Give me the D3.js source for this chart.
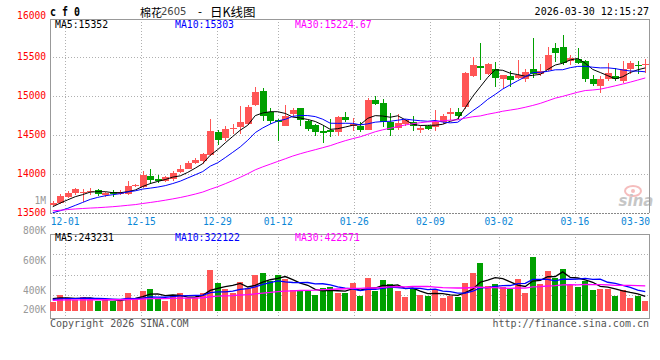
<!DOCTYPE html>
<html><head><meta charset="utf-8">
<script src="https://cdn.jsdelivr.net/npm/d3@7"></script>
<style>body{margin:0;background:#fff}svg{display:block}</style>
</head><body><svg id="c" width="660" height="360"></svg>
<script>
// ---------- data ----------
const dates = ["11-27","11-28","12-01","12-02","12-03","12-04","12-05","12-08","12-09","12-10",
"12-11","12-12","12-15","12-16","12-17","12-18","12-19","12-22","12-23","12-24",
"12-25","12-26","12-29","12-30","12-31","01-05","01-06","01-07","01-08","01-09",
"01-12","01-13","01-14","01-15","01-16","01-19","01-20","01-21","01-22","01-23",
"01-26","01-27","01-28","01-29","01-30","02-02","02-03","02-04","02-05","02-06",
"02-09","02-10","02-11","02-12","02-13","02-24","02-25","02-26","02-27","03-02",
"03-03","03-04","03-05","03-06","03-09","03-10","03-11","03-12","03-13","03-16",
"03-17","03-18","03-19","03-20","03-23","03-24","03-25","03-26","03-27","03-30"];
const open = [13600,13629,13706,13749,13757,13762,13790,13727,13760,13740,
13740,13843,13826,13972,13933,13912,13937,14023,14066,14143,
14169,14234,14538,14457,14580,14594,14637,14886,15066,14796,
14684,14616,14761,14847,14671,14624,14543,14564,14530,14727,
14616,14616,14556,14950,14907,14658,14586,14641,14667,14556,
14616,14598,14658,14761,14796,14856,15251,15380,15272,15337,
15208,15251,15230,15208,15337,15281,15328,15607,15620,15440,
15474,15444,15217,15122,15208,15251,15186,15345,15397,15397];
const high = [13650,13740,13783,13813,13800,13813,13800,13770,13790,13790,
13912,13870,14040,14058,13985,13976,14032,14113,14165,14200,
14264,14702,14560,14607,14637,14873,14882,15109,15100,14839,
14701,14882,14839,14847,14693,14637,14607,14701,14744,14796,
14714,14658,14972,15002,14963,14779,14770,14701,14744,14607,
14628,14813,14770,14847,14847,15302,15500,15671,15422,15431,
15268,15320,15457,15337,15740,15410,15628,15671,15774,15517,
15611,15457,15268,15251,15422,15357,15444,15444,15440,15474];
const low = [13590,13610,13685,13732,13640,13727,13720,13705,13705,13727,
13727,13835,13813,13870,13878,13895,13912,14015,14058,14126,
14126,14230,14370,14414,14508,14513,14628,14873,14671,14637,
14414,14607,14727,14607,14543,14487,14388,14470,14478,14658,
14543,14534,14556,14886,14594,14487,14564,14607,14543,14521,
14564,14543,14641,14693,14684,14830,15238,15200,15260,15113,
15096,15113,15208,15173,15225,15251,15320,15431,15388,15388,
15405,15173,15122,15036,15186,15186,15165,15281,15272,15294];
const close = [13620,13714,13757,13800,13770,13780,13740,13757,13735,13770,
13843,13850,13985,13920,13907,13963,14006,14066,14143,14178,
14255,14543,14427,14573,14590,14659,14856,15045,14744,14671,
14658,14744,14813,14684,14577,14530,14517,14534,14727,14684,
14641,14556,14942,14899,14658,14564,14650,14684,14607,14586,
14573,14658,14744,14796,14736,15294,15388,15354,15405,15221,
15260,15199,15268,15302,15277,15320,15517,15551,15414,15487,
15422,15208,15152,15217,15285,15217,15345,15422,15392,15405];
const volume = [155000,267000,222000,183000,238000,183000,172000,183000,167000,172000,
305000,222000,333000,367000,195000,172000,267000,305000,212000,212000,
305000,683000,472000,362000,305000,483000,378000,600000,638000,505000,
600000,528000,350000,333000,333000,267000,388000,395000,305000,305000,
472000,255000,550000,333000,517000,450000,333000,238000,367000,267000,
250000,350000,222000,250000,238000,472000,638000,800000,422000,450000,
395000,362000,533000,305000,900000,450000,667000,545000,700000,433000,
405000,505000,350000,367000,367000,250000,350000,210000,250000,160000];
// sessions before the visible window (needed for the moving averages)
const priorClose = [13480,13510,13560,13590,13620,13600,13570,13540,13520,13550,
13580,13560,13530,13500,13490,13510,13530,13520,13480,13480,
13460,13450,13420,13390,13395,13480,13550,13600,13635];
const priorVolume = [150000,160000,175000,180000,165000,170000,185000,160000,175000,170000,
180000,165000,155000,170000,185000,175000,160000,170000,180000,170000,
190000,175000,185000,180000,195000,200000,230000,215000,225000];
const priceTicks = [13500,14000,14500,15000,15500,16000];
const volTicks = [200000,400000,600000,800000,1000000];
const volTickLabels = ["200K","400K","600K","800K","1M"];
const xLabelDates = ["12-01","12-15","12-29","01-12","01-26","02-09","03-02","03-16","03-30"];
const maPeriods = [5,10,30];
const priceMALast = ["15352","15303","15224.67"];
const volMALast = ["243231","322122","422571"];
const titleCode = "c f 0";
const titleName = "棉花";
const titleContract = "2605";
const titleKind = "日K线图";
const timestamp = "2026-03-30 12:15:27";
const copyright = "Copyright 2026 SINA.COM";
const siteUrl = "http://finance.sina.com.cn";

// ---------- layout ----------
const L = 50, R = 650, PT = 19, PB = 212.7, VT = 234, VB = 318, VBASE = 311;
const MONO = "'DejaVu Sans Mono', 'Liberation Mono', monospace";
const RED = "#ff5555", GREEN = "#00a000";
const maColors = ["#000000", "#0000ff", "#ff00ff"];
const svg = d3.select("#c");

const x = d3.scaleBand().domain(d3.range(dates.length)).range([49, 649]);
const cx = i => x(i) + x.bandwidth() / 2;
const gx = d3.scaleLinear().domain([0, dates.length - 1]).range([50, 651]);
const y = d3.scaleLinear().domain([13500, 16000]).range([PB, 17.7]);
const yv = d3.scaleLinear().domain([0, 1000000]).range([VBASE, 251]);
const volLabelY = d3.scaleLinear().domain([400000, 1000000]).range([290, 200.7]);

function movingAvg(prior, vals, n) {
  const all = prior.concat(vals), off = prior.length;
  return vals.map((_, i) => d3.mean(all.slice(off + i - n + 1, off + i + 1)));
}

// ---------- grid ----------
const grid = svg.append("g").attr("stroke", "#b0b0b0").attr("stroke-dasharray", "1,2").attr("fill", "none");
priceTicks.filter(v => v > 13500 && v < 16000).forEach(v => {
  const yy = Math.round(y(v)) + 0.5;
  grid.append("line").attr("x1", L).attr("x2", R).attr("y1", yy).attr("y2", yy);
});
xLabelDates.slice(0, -1).forEach(d => {
  const xx = Math.round(gx(dates.indexOf(d))) + 0.5;
  grid.append("line").attr("x1", xx).attr("x2", xx).attr("y1", PT).attr("y2", PB);
  grid.append("line").attr("x1", xx).attr("x2", xx).attr("y1", VT).attr("y2", VB + 2);
});
d3.range(1, 4).forEach(k => {
  const yy = Math.round(VT + k * (VB - VT - 2.4) / 4) + 0.5;
  grid.append("line").attr("x1", L).attr("x2", R).attr("y1", yy).attr("y2", yy);
});

// ---------- borders ----------
const bord = svg.append("g").attr("stroke", "#999").attr("fill", "none").attr("shape-rendering", "crispEdges");
bord.append("path").attr("d", `M${L + 0.5},${PB}V${PT + 0.5}H${R - 0.5}V${PB}`);
bord.append("line").attr("x1", L).attr("x2", R).attr("y1", Math.round(PB) + 0.5).attr("y2", Math.round(PB) + 0.5)
  .attr("stroke", "#888").attr("stroke-dasharray", "2,1");
bord.append("rect").attr("x", L + 0.5).attr("y", VT + 0.5).attr("width", R - L - 1).attr("height", VB - VT);

// ---------- candles ----------
const cg = svg.append("g").attr("shape-rendering", "crispEdges");
dates.forEach((d, i) => {
  const col = close[i] >= open[i] ? RED : GREEN;
  const px = Math.round(cx(i));
  cg.append("rect").attr("x", px).attr("width", 1)
    .attr("y", y(high[i])).attr("height", Math.max(1, y(low[i]) - y(high[i]))).attr("fill", col);
  const top = y(Math.max(open[i], close[i])), bot = y(Math.min(open[i], close[i]));
  cg.append("rect").attr("x", px - 3).attr("width", 7)
    .attr("y", top).attr("height", Math.max(1, bot - top)).attr("fill", col);
});

// ---------- volume bars ----------
const vg = svg.append("g").attr("shape-rendering", "crispEdges");
volume.forEach((v, i) => {
  const col = close[i] >= open[i] ? RED : GREEN;
  const px = Math.round(cx(i));
  vg.append("rect").attr("x", px - 3).attr("width", 6)
    .attr("y", yv(v)).attr("height", VBASE - yv(v)).attr("fill", col);
});

// ---------- moving averages ----------
maPeriods.forEach((n, k) => {
  const pm = movingAvg(priorClose, close, n);
  svg.append("path").datum(pm)
    .attr("d", d3.line().x((d, i) => cx(i)).y(d => y(d)))
    .attr("fill", "none").attr("stroke", maColors[k]).attr("stroke-width", 1);
  const vm = movingAvg(priorVolume, volume, n);
  svg.append("path").datum(vm)
    .attr("d", d3.line().x((d, i) => cx(i)).y(d => yv(d)))
    .attr("fill", "none").attr("stroke", maColors[k]).attr("stroke-width", 1.3);
});

// ---------- texts ----------
function txt(s, xx, yy, opt = {}) {
  const t = svg.append("text").attr("x", xx).attr("y", yy).text(s)
    .attr("font-family", opt.font || MONO).attr("font-size", opt.size || 10)
    .attr("fill", opt.fill || "#000").attr("text-anchor", opt.anchor || "start")
    .attr("dominant-baseline", "central");
  if (opt.weight) t.attr("font-weight", opt.weight);
  if (opt.style) t.attr("font-style", opt.style);
  return t;
}
priceTicks.forEach(v => txt(String(v), 46, v === 16000 ? 15.7 : y(v), {fill: "#ff0000", anchor: "end", size: 9.6}));
volTicks.forEach((v, k) => txt(volTickLabels[k], 46, Math.min(volLabelY(v), 309.3), {fill: "#999", anchor: "end", size: 9.6}));
xLabelDates.forEach((d, k) => {
  const last = k === xLabelDates.length - 1;
  txt(d, last ? R : gx(dates.indexOf(d)), 221.7, {fill: "#0a86d6", anchor: last ? "end" : "middle", size: 9.6});
});
const maNames = maPeriods.map(n => "MA" + n + ":");
const maX = [55, 175, 295];
maNames.forEach((nm, k) => {
  txt(nm + priceMALast[k], maX[k], 24, {fill: maColors[k], size: 9.8});
  txt(nm + volMALast[k], maX[k], 237.5, {fill: maColors[k], size: 9.8});
});
txt(titleCode, 50, 12, {weight: "bold", size: 12}).attr("textLength", 30).attr("lengthAdjust", "spacingAndGlyphs");
txt(titleName, 140, 11.5, {font: "'Noto Sans CJK SC', sans-serif", size: 11});
txt(titleContract, 161, 11.5, {font: "'DejaVu Sans', sans-serif", size: 10, fill: "#444"});
txt("-", 200, 11.5, {font: "'DejaVu Sans', sans-serif", size: 11, anchor: "middle"});
txt(titleKind, 210, 11.5, {font: "'Noto Sans CJK SC', sans-serif", size: 12.5});
txt(timestamp, 649, 11.7, {anchor: "end", size: 10});
txt(copyright, 50, 323.3, {fill: "#555", size: 10});
txt(siteUrl, 649, 323.8, {fill: "#555", size: 10, anchor: "end"});

// sina watermark
const wm = svg.append("g").attr("opacity", 0.55);
wm.append("ellipse").attr("cx", 633).attr("cy", 191).attr("rx", 8).attr("ry", 5)
  .attr("fill", "none").attr("stroke", "#e88").attr("stroke-width", 2);
wm.append("circle").attr("cx", 633).attr("cy", 191).attr("r", 2).attr("fill", "#e88");
wm.append("text").attr("x", 636).attr("y", 206).attr("text-anchor", "middle")
  .attr("font-family", "'DejaVu Sans', sans-serif").attr("font-size", 15).attr("font-weight", "bold")
  .attr("font-style", "italic").attr("fill", "#999").text("sina");
</script></body></html>
